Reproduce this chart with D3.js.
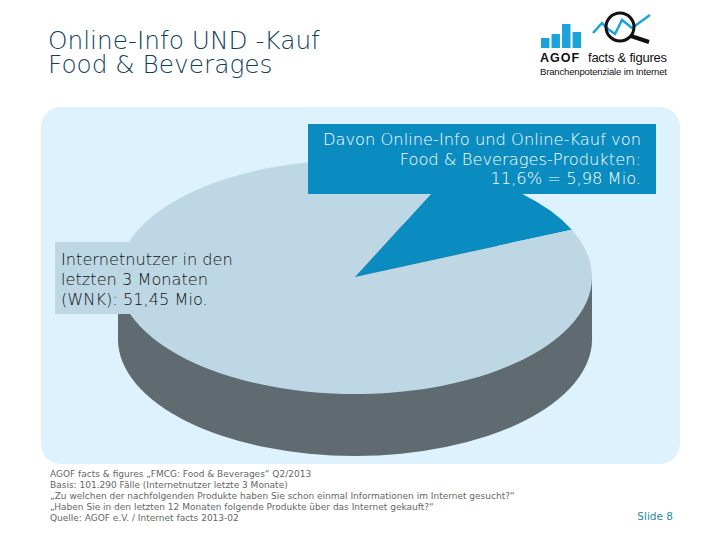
<!DOCTYPE html>
<html><head><meta charset="utf-8">
<script src="https://cdn.jsdelivr.net/npm/d3@7"></script>
<style>html,body{margin:0;background:#fff}svg{display:block}
text{font-family:"DejaVu Sans",sans-serif}
text.lt{font-family:"DejaVu Sans Light","DejaVu Sans",sans-serif;font-weight:200}
text.lg{font-family:"Liberation Sans",sans-serif}</style>
</head><body><svg id="c" width="720" height="540"></svg>
<script>
const categories = ["Online-Info und Online-Kauf", "Übrige Internetnutzer"];
const values = [5.98, 45.47];
const titleLines = ["Online-Info UND -Kauf", "Food & Beverages"];
const calloutLines = ["Davon Online-Info und Online-Kauf von", "Food & Beverages-Produkten:", "11,6% = 5,98 Mio."];
const labelLines = ["Internetnutzer in den", "letzten 3 Monaten", "(WNK): 51,45 Mio."];
const footerLines = ["AGOF facts & figures „FMCG: Food & Beverages“ Q2/2013",
  "Basis: 101.290 Fälle (Internetnutzer letzte 3 Monate)",
  "„Zu welchen der nachfolgenden Produkte haben Sie schon einmal Informationen im Internet gesucht?“",
  "„Haben Sie in den letzten 12 Monaten folgende Produkte über das Internet gekauft?“",
  "Quelle: AGOF e.V. / Internet facts 2013-02"];
const logoBars = [10, 14, 24, 16];
const logoLine = [[0,21],[9,11],[15,17],[22,22],[29,8],[39,16],[57,3]];

const svg = d3.select("#c");
const PIE = "#bdd7e4", SIDE = "#5f6b71", BLUE = "#0a8cc0", PANEL = "#def2fe";

svg.append("rect").attr("x",41).attr("y",107).attr("width",639).attr("height",357).attr("rx",20).attr("fill",PANEL);

const cx = 355, cy = 277, rx = 237, ry = 117, depth = 62;
const start = 24.3 * Math.PI / 180;
const pie = d3.pie().sort(null).startAngle(start).endAngle(start + 2*Math.PI)(values);
const arc = d3.arc().innerRadius(0).outerRadius(rx);
const g = svg.append("g");
const disc = d3.arc().innerRadius(0).outerRadius(rx).startAngle(0).endAngle(2*Math.PI)();
const sy = ry / rx;
g.append("path").attr("d", disc).attr("fill", SIDE).attr("transform",`translate(${cx},${cy+depth}) scale(1,${sy})`);
g.append("rect").attr("x",cx-rx).attr("y",cy).attr("width",2*rx).attr("height",depth).attr("fill",SIDE);
g.selectAll("path.s").data(pie).join("path").attr("class","s")
  .attr("d", arc).attr("fill",(d,i)=>i===0?BLUE:PIE)
  .attr("transform",`translate(${cx},${cy}) scale(1,${sy})`);

svg.append("rect").attr("x",308).attr("y",124).attr("width",348).attr("height",70).attr("fill",BLUE);
svg.append("rect").attr("x",55).attr("y",242).attr("width",172).attr("height",72).attr("fill",PIE);

svg.append("text").attr("class","lt").attr("font-size",24.8).attr("fill","#0f3f63")
  .selectAll("tspan").data(titleLines).join("tspan")
  .attr("x",48).attr("y",(d,i)=>49+i*24).text(d=>d);
svg.selectAll("text.co").data(calloutLines).join("text").attr("class","co lt")
  .attr("x",641).attr("y",(d,i)=>145+i*19.5).attr("text-anchor","end").attr("font-size",16.3).attr("fill","#ffffff").text(d=>d);
svg.selectAll("text.la").data(labelLines).join("text").attr("class","la lt")
  .attr("x",61).attr("y",(d,i)=>265+i*20).attr("font-size",16.2).attr("fill","#111").text(d=>d);
svg.selectAll("text.fo").data(footerLines).join("text").attr("class","fo")
  .attr("x",50).attr("y",(d,i)=>477+i*11).attr("font-size",9).attr("fill","#666").text(d=>d);
svg.append("text").attr("x",673).attr("y",520).attr("text-anchor","end").attr("font-size",10.5).attr("fill","#2a8ca8").text("Slide 8");

const logo = svg.append("g");
const xb = d3.scaleBand().domain(d3.range(logoBars.length)).range([541,581]).paddingInner(0.2);
logo.selectAll("rect").data(logoBars).join("rect")
  .attr("x",(d,i)=>xb(i)).attr("width",xb.bandwidth()).attr("y",d=>48-d).attr("height",d=>d).attr("fill","#1ba3dc");
logo.append("path").attr("d", d3.line().x(d=>593+d[0]).y(d=>12+d[1])(logoLine)).attr("fill","none").attr("stroke","#1ba3dc").attr("stroke-width",2.5);
logo.append("circle").attr("cx",620).attr("cy",27).attr("r",14).attr("fill","none").attr("stroke","#111").attr("stroke-width",3);
logo.append("line").attr("x1",631).attr("y1",36).attr("x2",649).attr("y2",42).attr("stroke","#111").attr("stroke-width",4);
logo.append("text").attr("class","lg").attr("x",540).attr("y",62).attr("font-size",12.5).attr("font-weight","bold").attr("letter-spacing",1).attr("fill","#111").text("AGOF");
logo.append("text").attr("class","lg").attr("x",588).attr("y",62).attr("font-size",13).attr("textLength",79).attr("fill","#111").text("facts & figures");
logo.append("text").attr("class","lg").attr("x",540).attr("y",75).attr("font-size",9.5).attr("textLength",127).attr("fill","#111").text("Branchenpotenziale im Internet");
</script></body></html>
